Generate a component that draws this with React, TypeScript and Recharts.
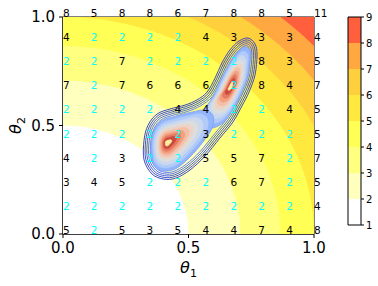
import React from 'react';
import { ComposedChart, Scatter, XAxis, YAxis, ReferenceArea } from 'recharts';

// grid positions (10 x 10)
const gridX = [0, 0.111, 0.222, 0.333, 0.444, 0.556, 0.667, 0.778, 0.889, 1.0];
const gridY = [0, 0.111, 0.222, 0.333, 0.444, 0.556, 0.667, 0.778, 0.889, 1.0];
// rows from y=0 (bottom) to y=1 (top)
const gridRows = [
  [5, 2, 5, 3, 5, 4, 4, 7, 4, 8],
  [2, 2, 2, 2, 2, 2, 2, 2, 2, 4],
  [3, 4, 5, 2, 2, 2, 6, 7, 2, 5],
  [4, 2, 3, 2, 2, 5, 5, 7, 2, 7],
  [2, 2, 2, 2, 2, 3, 2, 2, 2, 5],
  [2, 2, 2, 2, 4, 4, 2, 2, 4, 5],
  [7, 2, 7, 6, 6, 6, 2, 8, 4, 7],
  [2, 2, 7, 2, 2, 2, 2, 8, 3, 5],
  [4, 2, 2, 2, 2, 4, 3, 3, 3, 4],
  [8, 5, 8, 8, 6, 7, 8, 8, 5, 11],
];

// background filled-contour bands: outer radius (data units) and colour
const bandRadii = [1.6, 1.323, 1.225, 1.118, 1.0, 0.866, 0.707, 0.5];
const bandColors = ['#ff5f3c', '#ffa842', '#ffd03e', '#ffe93e', '#ffff55', '#ffff80', '#ffffbe', '#ffffff'];

// colorbar levels
const cbLevels = [1, 2, 3, 4, 5, 6, 7, 8, 9];
const cbColors = ['#ffffff', '#ffffbe', '#ffff80', '#ffff55', '#ffe93e', '#ffd03e', '#ffa842', '#ff5f3c'];

// density contour: outer envelope
const outerContour = [
  { x: 0.323, y: 0.341 }, { x: 0.323, y: 0.433 }, { x: 0.339, y: 0.502 }, { x: 0.375, y: 0.553 },
  { x: 0.426, y: 0.576 }, { x: 0.486, y: 0.594 }, { x: 0.534, y: 0.618 }, { x: 0.574, y: 0.654 },
  { x: 0.606, y: 0.719 }, { x: 0.633, y: 0.788 }, { x: 0.665, y: 0.848 }, { x: 0.701, y: 0.889 },
  { x: 0.737, y: 0.903 }, { x: 0.765, y: 0.876 }, { x: 0.773, y: 0.825 }, { x: 0.765, y: 0.733 },
  { x: 0.741, y: 0.654 }, { x: 0.713, y: 0.59 }, { x: 0.677, y: 0.516 }, { x: 0.625, y: 0.442 },
  { x: 0.566, y: 0.359 }, { x: 0.506, y: 0.295 }, { x: 0.45, y: 0.258 }, { x: 0.402, y: 0.253 },
  { x: 0.355, y: 0.276 },
];
const outerOffsets = [0, 1.7, 3.4, 5.1, 6.8];
const outerColors = ['#3b4cc0', '#4155c8', '#4a62d3', '#5571de', '#6282ea'];

const lowerMode = { x: 0.414, y: 0.419 };
const lowerLobe = [
  { x: 0.355, y: 0.341 }, { x: 0.351, y: 0.424 }, { x: 0.367, y: 0.488 }, { x: 0.398, y: 0.525 },
  { x: 0.450, y: 0.544 }, { x: 0.514, y: 0.562 }, { x: 0.566, y: 0.571 }, { x: 0.598, y: 0.544 },
  { x: 0.594, y: 0.488 }, { x: 0.558, y: 0.424 }, { x: 0.506, y: 0.355 }, { x: 0.454, y: 0.304 },
  { x: 0.406, y: 0.290 }, { x: 0.371, y: 0.304 },
];
const upperMode = { x: 0.669, y: 0.682 };
const upperLobe = [
  { x: 0.558, y: 0.562 }, { x: 0.594, y: 0.627 }, { x: 0.625, y: 0.700 }, { x: 0.657, y: 0.774 },
  { x: 0.689, y: 0.829 }, { x: 0.721, y: 0.862 }, { x: 0.745, y: 0.848 }, { x: 0.745, y: 0.802 },
  { x: 0.737, y: 0.728 }, { x: 0.713, y: 0.654 }, { x: 0.681, y: 0.581 }, { x: 0.641, y: 0.516 },
  { x: 0.594, y: 0.488 }, { x: 0.558, y: 0.507 },
];
const lobeScales = [1, 0.88, 0.77, 0.66, 0.56, 0.47, 0.38, 0.29, 0.2, 0.1];
const lobeColors = ['#93b5fe', '#b0cbf8', '#cad8ef', '#dcdddd', '#ecd3c5', '#f4bfa6', '#f3a081', '#e57a61', '#cc4a3e', '#fff0a0'];

const xTicks = [0, 0.5, 1];
const yTicks = [0, 0.5, 1];

const FONT = "'DejaVu Sans', sans-serif";

type P = { x: number; y: number };

function smoothPath(p: P[]): string {
  const n = p.length;
  let d = `M${p[0].x},${p[0].y}`;
  for (let i = 0; i < n; i++) {
    const p0 = p[(i - 1 + n) % n], p1 = p[i], p2 = p[(i + 1) % n], p3 = p[(i + 2) % n];
    const c1x = p1.x + (p2.x - p0.x) / 6, c1y = p1.y + (p2.y - p0.y) / 6;
    const c2x = p2.x - (p3.x - p1.x) / 6, c2y = p2.y - (p3.y - p1.y) / 6;
    d += ` C${c1x},${c1y} ${c2x},${c2y} ${p2.x},${p2.y}`;
  }
  return d + 'Z';
}

function offsetPoly(p: P[], d: number): P[] {
  if (d === 0) return p;
  const n = p.length;
  let area = 0;
  for (let i = 0; i < n; i++) {
    const a = p[i], b = p[(i + 1) % n];
    area += a.x * b.y - b.x * a.y;
  }
  const sgn = area > 0 ? 1 : -1;
  return p.map((c, i) => {
    const a = p[(i - 1 + n) % n], b = p[(i + 1) % n];
    const e1x = c.x - a.x, e1y = c.y - a.y, l1 = Math.hypot(e1x, e1y) || 1;
    const e2x = b.x - c.x, e2y = b.y - c.y, l2 = Math.hypot(e2x, e2y) || 1;
    const n1x = (-e1y / l1) * sgn, n1y = (e1x / l1) * sgn;
    const n2x = (-e2y / l2) * sgn, n2y = (e2x / l2) * sgn;
    let mx = n1x + n2x, my = n1y + n2y;
    const ml = Math.hypot(mx, my) || 1;
    mx /= ml; my /= ml;
    const cos = Math.max(0.5, mx * n1x + my * n1y);
    return { x: c.x + (mx * d) / cos, y: c.y + (my * d) / cos };
  });
}

const noShape = () => <g />;

const ellipseLine = (color: string) => (props: any) => {
  const pts = props.points as P[];
  if (!pts || pts.length < 3) return <g />;
  const c = pts[0];
  return <ellipse cx={c.x} cy={c.y} rx={Math.abs(pts[1].x - c.x)} ry={Math.abs(c.y - pts[2].y)} fill={color} stroke="none" />;
};

const outerLine = (props: any) => {
  const pts = props.points as P[];
  if (!pts || pts.length < 3) return <g />;
  return (
    <g>
      {outerOffsets.map((d, i) => (
        <path key={i} d={smoothPath(offsetPoly(pts, d))} fill="none" stroke={outerColors[i]} strokeWidth={1} />
      ))}
    </g>
  );
};

const lobeLine = (props: any) => {
  const pts = props.points as P[];
  if (!pts || pts.length < 4) return <g />;
  const c = pts[0];
  const poly = pts.slice(1);
  return (
    <g>
      {lobeScales.map((s, i) => {
        const sp = poly.map((q) => ({ x: c.x + (q.x - c.x) * s, y: c.y + (q.y - c.y) * s }));
        return <path key={i} d={smoothPath(sp)} fill={lobeColors[i]} stroke={i === 0 ? '#7c9ef5' : lobeColors[i]} strokeWidth={0.8} />;
      })}
    </g>
  );
};

const numberData = gridRows.flatMap((row, j) => row.map((v, i) => ({ x: gridX[i], y: gridY[j], v })));

const numberShape = (props: any) => {
  const v = props.payload?.v;
  return (
    <text x={props.cx} y={props.cy} fontSize={10.5} fontFamily={FONT} fill={v === 2 ? '#00ffff' : '#000000'} textAnchor="start">
      {v}
    </text>
  );
};

const fmt = (v: number) => v.toFixed(1);

const XLabel = (props: any) => {
  const vb = props.viewBox || {};
  const cx = (vb.x || 63) + (vb.width || 251) / 2;
  return (
    <text x={cx} y={273} textAnchor="middle" fontFamily={FONT} fontSize={16} fill="#000">
      <tspan fontStyle="italic">θ</tspan>
      <tspan fontSize={11} dy={4}>1</tspan>
    </text>
  );
};

const YLabel = (props: any) => {
  const vb = props.viewBox || {};
  const cy = (vb.y || 17) + (vb.height || 217) / 2;
  const cx = 21;
  return (
    <text x={cx} y={cy} textAnchor="middle" fontFamily={FONT} fontSize={16} fill="#000" transform={`rotate(-90, ${cx}, ${cy})`}>
      <tspan fontStyle="italic">θ</tspan>
      <tspan fontSize={11} dy={4}>2</tspan>
    </text>
  );
};

export default function App() {
  return (
    <div style={{ position: 'absolute', left: 0, top: 0, width: 378, height: 286, fontFamily: FONT, background: '#fff' }}>
      <div style={{ position: 'absolute', left: 0, top: 0 }}>
        <ComposedChart width={378} height={286} margin={{ top: 17, right: 64, left: 0, bottom: 0 }}>
          <XAxis xAxisId="bg" type="number" dataKey="x" domain={[0, 1]} allowDataOverflow hide height={0} />
          <YAxis yAxisId="bg" type="number" dataKey="y" domain={[0, 1]} allowDataOverflow hide width={0} />
          <XAxis
            xAxisId="m" type="number" dataKey="x" domain={[0, 1]} ticks={xTicks} tickFormatter={fmt}
            height={52} tickSize={4} tickMargin={4} interval={0}
            tick={{ fontSize: 15, fill: '#000', fontFamily: FONT }}
            axisLine={{ stroke: '#000' }} tickLine={{ stroke: '#000' }}
            label={{ content: XLabel }}
          />
          <YAxis
            yAxisId="m" type="number" dataKey="y" domain={[0, 1]} ticks={yTicks} tickFormatter={fmt}
            width={63} tickSize={4} tickMargin={4} interval={0}
            tick={{ fontSize: 15, fill: '#000', fontFamily: FONT }}
            axisLine={{ stroke: '#000' }} tickLine={{ stroke: '#000' }}
            label={{ content: YLabel }}
          />

          {bandRadii.map((r, i) => (
            <Scatter
              key={`band${i}`}
              xAxisId="bg" yAxisId="bg"
              data={[{ x: 0, y: 0 }, { x: r, y: 0 }, { x: 0, y: r }]}
              shape={noShape}
              line={ellipseLine(bandColors[i])}
              lineType="joint"
              isAnimationActive={false}
            />
          ))}

          <Scatter xAxisId="m" yAxisId="m" data={outerContour} shape={noShape} line={outerLine} lineType="joint" isAnimationActive={false} />
          <Scatter xAxisId="m" yAxisId="m" data={[upperMode, ...upperLobe]} shape={noShape} line={lobeLine} lineType="joint" isAnimationActive={false} />
          <Scatter xAxisId="m" yAxisId="m" data={[lowerMode, ...lowerLobe]} shape={noShape} line={lobeLine} lineType="joint" isAnimationActive={false} />

          <Scatter xAxisId="m" yAxisId="m" data={numberData} shape={numberShape} isAnimationActive={false} />

          <ReferenceArea xAxisId="m" yAxisId="m" x1={0} x2={1} y1={0} y2={1} fill="none" fillOpacity={0} stroke="#000" strokeWidth={1} />
        </ComposedChart>
      </div>
      <div style={{ position: 'absolute', left: 340, top: 0 }}>
        <ComposedChart width={38} height={240} margin={{ top: 17, right: 0, left: 8, bottom: 15 }}>
          <XAxis xAxisId="c" type="number" dataKey="x" domain={[0, 1]} hide height={0} />
          <YAxis
            yAxisId="c" type="number" dataKey="y" domain={[1, 9]} ticks={cbLevels} orientation="right"
            width={17} tickSize={3} tickMargin={2} interval={0}
            tick={{ fontSize: 10, fill: '#000', fontFamily: FONT }}
            axisLine={false} tickLine={{ stroke: '#000' }}
          />
          <Scatter xAxisId="c" yAxisId="c" data={[{ x: 0, y: 1 }]} shape={noShape} isAnimationActive={false} />
          {cbColors.map((c, i) => (
            <ReferenceArea
              key={`cb${i}`} xAxisId="c" yAxisId="c"
              x1={0} x2={1} y1={cbLevels[i]} y2={cbLevels[i + 1]}
              fill={c} fillOpacity={1} stroke="none"
            />
          ))}
          <ReferenceArea xAxisId="c" yAxisId="c" x1={0} x2={1} y1={1} y2={9} fill="none" fillOpacity={0} stroke="#000" strokeWidth={1} />
        </ComposedChart>
      </div>
    </div>
  );
}
